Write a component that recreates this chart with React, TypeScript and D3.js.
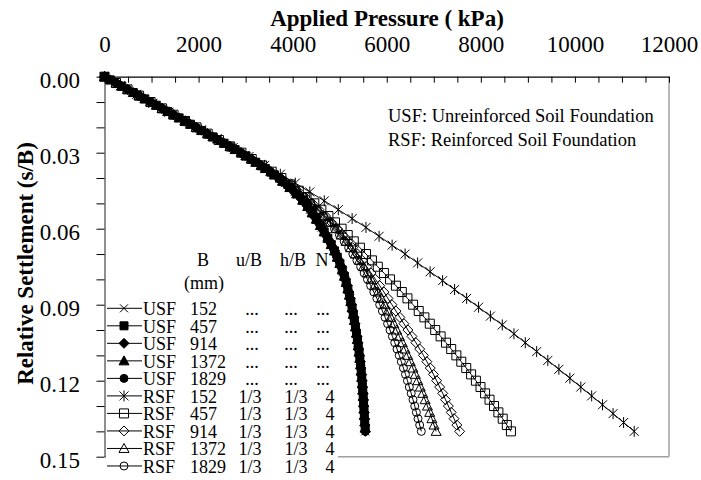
import * as d3 from 'd3'
import React from 'react'

// settlement steps (s/B); USF and RSF of one width share them
const settle152 = [0, 0.0035, 0.007, 0.0105, 0.014, 0.0175, 0.021, 0.0245, 0.028, 0.0315, 0.035, 0.0385, 0.042, 0.0455, 0.049, 0.0525, 0.056, 0.0595, 0.063, 0.0665, 0.07, 0.0735, 0.077, 0.0805, 0.084, 0.0875, 0.091, 0.0945, 0.098, 0.1015, 0.105, 0.1085, 0.112, 0.1155, 0.119, 0.1225, 0.126, 0.1295, 0.133, 0.1365, 0.14]
const settleFine = [0, 0.0025, 0.005, 0.0075, 0.01, 0.0125, 0.015, 0.0175, 0.02, 0.0225, 0.025, 0.0275, 0.03, 0.0325, 0.035, 0.0375, 0.04, 0.0425, 0.045, 0.0475, 0.05, 0.0525, 0.055, 0.0575, 0.06, 0.0625, 0.065, 0.0675, 0.07, 0.0725, 0.075, 0.0775, 0.08, 0.0825, 0.085, 0.0875, 0.09, 0.0925, 0.095, 0.0975, 0.1, 0.1025, 0.105, 0.1075, 0.11, 0.1125, 0.115, 0.1175, 0.12, 0.1225, 0.125, 0.1275, 0.13, 0.1325, 0.135, 0.1375, 0.14]
const settleMid = [0, 0.00125, 0.00375, 0.00625, 0.00875, 0.01125, 0.01375, 0.01625, 0.01875, 0.02125, 0.02375, 0.02625, 0.02875, 0.03125, 0.03375, 0.03625, 0.03875, 0.04125, 0.04375, 0.04625, 0.04875, 0.05125, 0.05375, 0.05625, 0.05875, 0.06125, 0.06375, 0.06625, 0.06875, 0.07125, 0.07375, 0.07625, 0.07875, 0.08125, 0.08375, 0.08625, 0.08875, 0.09125, 0.09375, 0.09625, 0.09875, 0.10125, 0.10375, 0.10625, 0.10875, 0.11125, 0.11375, 0.11625, 0.11875, 0.12125, 0.12375, 0.12625, 0.12875, 0.13125, 0.13375, 0.13625, 0.13875]

// applied pressure (kPa)
const usfPressure152 = [0, 343, 686, 1029, 1368, 1707, 2043, 2376, 2707, 3024, 3320, 3592, 3832, 4043, 4224, 4370, 4495, 4614, 4725, 4827, 4920, 4999, 5068, 5127, 5177, 5221, 5260, 5295, 5327, 5358, 5385, 5410, 5433, 5453, 5470, 5485, 5499, 5510, 5522, 5533, 5545]
// USF 457..1829 plot on top of each other in the source
const usfPressure = [0, 245, 490, 735, 980, 1222, 1465, 1707, 1948, 2186, 2424, 2660, 2895, 3110, 3320, 3520, 3700, 3865, 4015, 4155, 4270, 4370, 4460, 4548, 4630, 4710, 4785, 4855, 4920, 4978, 5030, 5077, 5120, 5157, 5190, 5221, 5250, 5276, 5300, 5323, 5345, 5366, 5385, 5403, 5420, 5436, 5450, 5463, 5475, 5485, 5495, 5504, 5512, 5520, 5528, 5536, 5545]
const usfPressureMid = [0, 122, 367, 612, 857, 1101, 1343, 1586, 1827, 2067, 2305, 2542, 2777, 3003, 3215, 3420, 3610, 3783, 3940, 4085, 4213, 4320, 4415, 4504, 4589, 4670, 4748, 4820, 4888, 4949, 5004, 5054, 5099, 5139, 5174, 5206, 5236, 5263, 5288, 5312, 5334, 5356, 5376, 5394, 5412, 5428, 5443, 5457, 5469, 5480, 5490, 5500, 5508, 5516, 5524, 5532, 5541]
const rsfPressure152 = [0, 343, 686, 1029, 1372, 1715, 2057, 2397, 2736, 3073, 3405, 3738, 4056, 4364, 4672, 4970, 5264, 5558, 5837, 6114, 6390, 6656, 6922, 7187, 7442, 7698, 7952, 8204, 8456, 8704, 8945, 9187, 9424, 9659, 9893, 10125, 10356, 10587, 10811, 11035, 11260]
const rsfPressure457 = [0, 245, 490, 735, 980, 1224, 1468, 1711, 1955, 2194, 2433, 2671, 2910, 3130, 3350, 3555, 3760, 3945, 4130, 4295, 4460, 4610, 4760, 4900, 5040, 5170, 5300, 5430, 5560, 5685, 5810, 5940, 6070, 6195, 6320, 6440, 6560, 6680, 6800, 6915, 7030, 7145, 7260, 7370, 7480, 7585, 7690, 7793, 7895, 7993, 8090, 8185, 8280, 8373, 8465, 8553, 8640]
const rsfPressure914 = [0, 245, 490, 735, 980, 1222, 1465, 1708, 1950, 2188, 2425, 2663, 2900, 3115, 3330, 3538, 3745, 3922, 4100, 4260, 4420, 4560, 4700, 4825, 4950, 5060, 5170, 5275, 5380, 5478, 5575, 5668, 5760, 5850, 5940, 6025, 6110, 6195, 6280, 6365, 6450, 6535, 6620, 6700, 6780, 6853, 6925, 6993, 7060, 7125, 7190, 7250, 7310, 7370, 7430, 7490, 7550]
const rsfPressure1372 = [0, 245, 490, 735, 980, 1222, 1465, 1707, 1948, 2188, 2428, 2667, 2905, 3118, 3328, 3533, 3735, 3913, 4090, 4248, 4405, 4543, 4680, 4800, 4920, 5028, 5135, 5233, 5330, 5418, 5505, 5585, 5665, 5740, 5815, 5885, 5955, 6020, 6085, 6148, 6210, 6270, 6330, 6388, 6445, 6500, 6555, 6608, 6660, 6713, 6765, 6815, 6865, 6913, 6960, 7005, 7050]
const rsfPressure1829 = [0, 245, 490, 735, 980, 1222, 1465, 1707, 1948, 2188, 2428, 2667, 2905, 3117, 3325, 3530, 3730, 3908, 4080, 4238, 4390, 4525, 4655, 4775, 4890, 4995, 5095, 5190, 5280, 5365, 5445, 5520, 5590, 5658, 5725, 5790, 5850, 5908, 5965, 6018, 6070, 6120, 6170, 6218, 6265, 6310, 6355, 6398, 6440, 6480, 6520, 6558, 6595, 6630, 6665, 6700, 6735]

// legend table
const foundationTypes = ['USF', 'USF', 'USF', 'USF', 'USF', 'RSF', 'RSF', 'RSF', 'RSF', 'RSF']
const footingWidths = ['152', '457', '914', '1372', '1829', '152', '457', '914', '1372', '1829']
const uBValues = ['...', '...', '...', '...', '...', '1/3', '1/3', '1/3', '1/3', '1/3']
const hBValues = ['...', '...', '...', '...', '...', '1/3', '1/3', '1/3', '1/3', '1/3']
const nValues = ['...', '...', '...', '...', '...', '4', '4', '4', '4', '4']

const pressureSeries = [usfPressure152, usfPressureMid, usfPressure, usfPressureMid, usfPressure,
    rsfPressure152, rsfPressure457, rsfPressure914, rsfPressure1372, rsfPressure1829]
const settleSeries = [settle152, settleMid, settleFine, settleMid, settleFine,
    settle152, settleFine, settleFine, settleFine, settleFine]

const xTickLabels = [0, 2000, 4000, 6000, 8000, 10000, 12000]
const yTickLabels = [0, 0.03, 0.06, 0.09, 0.12, 0.15]

const markerKinds = ['cross', 'squareFill', 'diamondFill', 'triangleFill', 'circleFill',
    'star', 'square', 'diamond', 'triangle', 'circle']

const FONT = '"Liberation Serif", "Times New Roman", serif'

function drawMarker(g: any, kind: string, cx: number, cy: number) {
    let d = ''
    let filled = kind.endsWith('Fill')
    if (kind === 'cross') {
        d = `M${cx - 4},${cy - 4}L${cx + 4},${cy + 4}M${cx - 4},${cy + 4}L${cx + 4},${cy - 4}`
    } else if (kind === 'star') {
        d = `M${cx - 4.5},${cy - 4.5}L${cx + 4.5},${cy + 4.5}M${cx - 4.5},${cy + 4.5}L${cx + 4.5},${cy - 4.5}M${cx},${cy - 5.5}L${cx},${cy + 5.5}`
    } else if (kind === 'squareFill') {
        d = `M${cx - 4},${cy - 4}h8v8h-8Z`
    } else if (kind === 'square') {
        d = `M${cx - 4.5},${cy - 4.5}h9v9h-9Z`
    } else if (kind === 'diamondFill' || kind === 'diamond') {
        let r = filled ? 5 : 5
        d = `M${cx},${cy - r}L${cx + r},${cy}L${cx},${cy + r}L${cx - r},${cy}Z`
    } else if (kind === 'triangleFill' || kind === 'triangle') {
        let r = 5
        d = `M${cx},${cy - r}L${cx + r},${cy + r * 0.8}L${cx - r},${cy + r * 0.8}Z`
    }
    if (kind === 'circleFill' || kind === 'circle') {
        g.append('circle')
            .attr('cx', cx).attr('cy', cy)
            .attr('r', 4)
            .attr('fill', filled ? '#000' : 'none')
            .attr('stroke', '#000').attr('stroke-width', 1)
        return
    }
    g.append('path')
        .attr('d', d)
        .attr('fill', filled ? '#000' : 'none')
        .attr('stroke', '#000')
        .attr('stroke-width', 1)
}

export default function App() {
    const ref = React.useRef<SVGSVGElement>(null)

    React.useEffect(() => {
        drawChart()
    }, [])

    function drawChart() {
        const svg = d3.select(ref.current)
        svg.selectAll('*').remove()

        const x = d3.scaleLinear().domain([0, 12000]).range([104.5, 669])
        const y = d3.scaleLinear().domain([0, 0.15]).range([76.7, 456.7])

        // plot frame (grey right/bottom)
        svg.append('line').attr('x1', 669).attr('x2', 669).attr('y1', y(0)).attr('y2', y(0.15))
            .attr('stroke', '#a0a0a0').attr('stroke-width', 1.5)
        svg.append('line').attr('x1', 104.5).attr('x2', 669).attr('y1', y(0.15)).attr('y2', y(0.15))
            .attr('stroke', '#a0a0a0').attr('stroke-width', 1.5)

        // top axis
        const xAxis = d3.axisTop(x)
            .tickValues(d3.range(0, 12001, 500))
            .tickSizeInner(-6)
            .tickSizeOuter(0)
            .tickPadding(24.7)
            .tickFormat((d: any) => (xTickLabels.includes(+d) ? String(d) : ''))
        const gx = svg.append('g').attr('transform', `translate(0,${y(0)})`).call(xAxis)
        gx.selectAll('text').attr('font-family', FONT).attr('font-size', 23).attr('fill', '#000')
        gx.selectAll('line').attr('stroke', '#000')
        gx.select('.domain').attr('stroke', '#000').attr('stroke-width', 1.2)

        // left axis
        const yAxis = d3.axisLeft(y)
            .tickValues(d3.range(0, 16).map(i => i / 100))
            .tickSizeInner(8)
            .tickSizeOuter(0)
            .tickPadding(16.5)
            .tickFormat((d: any) => (yTickLabels.some(v => Math.abs(v - d) < 1e-9) ? (+d).toFixed(2) : ''))
        const gy = svg.append('g').attr('transform', `translate(104.5,0)`).call(yAxis)
        gy.selectAll('text').attr('font-family', FONT).attr('font-size', 23).attr('fill', '#000').attr('dy', '0.45em')
        gy.selectAll('line').attr('stroke', '#000')
        gy.select('.domain').attr('stroke', '#444').attr('stroke-width', 1.2)

        // titles
        svg.append('text')
            .attr('x', 387).attr('y', 26)
            .attr('text-anchor', 'middle')
            .attr('font-family', FONT).attr('font-weight', 'bold').attr('font-size', 23)
            .text('Applied Pressure ( kPa)')
        svg.append('text')
            .attr('transform', 'translate(33,263.5) rotate(-90)')
            .attr('text-anchor', 'middle')
            .attr('font-family', FONT).attr('font-weight', 'bold').attr('font-size', 23)
            .text('Relative Settlement (s/B)')

        // series: RSF first, USF drawn over them
        const order = [5, 6, 7, 8, 9, 0, 1, 2, 3, 4]
        order.forEach(i => {
            const p = pressureSeries[i]
            const s = settleSeries[i]
            const pts: [number, number][] = p.map((v, k) => [x(v), y(s[k])])
            const g = svg.append('g')
            g.append('path')
                .attr('d', d3.line()(pts))
                .attr('fill', 'none')
                .attr('stroke', '#000')
                .attr('stroke-width', 1)
            pts.forEach(pt => drawMarker(g, markerKinds[i], pt[0], pt[1]))
        })

        // annotation
        svg.append('text').attr('x', 388).attr('y', 121.7)
            .attr('font-family', FONT).attr('font-size', 18.5)
            .text('USF: Unreinforced Soil Foundation')
        svg.append('text').attr('x', 388).attr('y', 146)
            .attr('font-family', FONT).attr('font-size', 18.5)
            .text('RSF: Reinforced Soil Foundation')

        // legend
        const lg = svg.append('g')
        lg.append('rect').attr('x', 106).attr('y', 298).attr('width', 232).attr('height', 182).attr('fill', '#fff')
        const txt = (tx: number, ty: number, t: string, anchor = 'start') =>
            lg.append('text').attr('x', tx).attr('y', ty).attr('text-anchor', anchor)
                .attr('font-family', FONT).attr('font-size', 18).text(t)
        txt(203, 266, 'B', 'middle')
        txt(249, 266, 'u/B', 'middle')
        txt(293, 266, 'h/B', 'middle')
        txt(322, 266, 'N', 'middle')
        txt(204, 289, '(mm)', 'middle')

        foundationTypes.forEach((ft, i) => {
            const base = 315 + i * 17.52
            const my = base - 6.7
            lg.append('line').attr('x1', 107).attr('x2', 142).attr('y1', my).attr('y2', my)
                .attr('stroke', '#000').attr('stroke-width', 1)
            drawMarker(lg, markerKinds[i], 124, my)
            txt(143, base, ft)
            txt(190, base, footingWidths[i])
            const dots = uBValues[i] === '...'
            txt(dots ? 252 : 250, base, uBValues[i], 'middle')
            txt(dots ? 291 : 296, base, hBValues[i], 'middle')
            txt(dots ? 323 : 330, base, nValues[i], 'middle')
        })
    }

    return (
        <svg ref={ref} width={701} height={480}
            style={{ position: 'absolute', left: 0, top: 0, background: '#fff' }} />
    )
}
